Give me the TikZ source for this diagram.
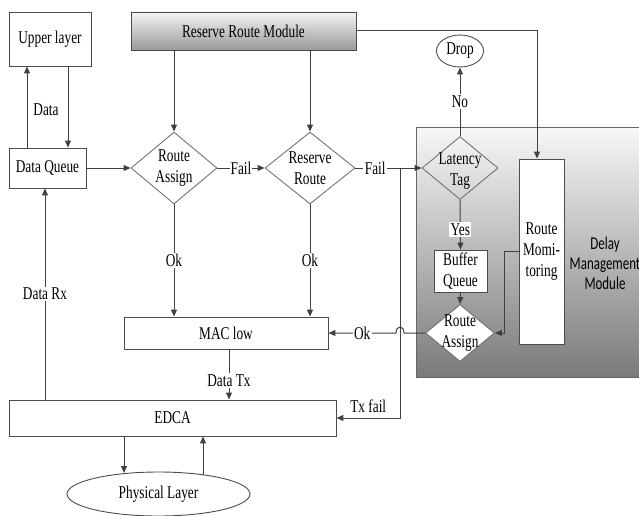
\documentclass[tikz,border=0pt]{standalone}
\usepackage{fontspec}
\setmainfont[FakeStretch=0.74]{Liberation Serif}
\newfontfamily\calfont[FakeStretch=0.72]{Carlito}
\usetikzlibrary{arrows.meta,shapes.geometric}
\newcommand\tf{\fontsize{18}{21}\selectfont}
\begin{document}
\begin{tikzpicture}[x=1pt,y=-1pt,
  ln/.style={draw=black!75, line width=1pt},
  arr/.style={ln, -{Triangle[length=7pt,width=6pt]}},
  box/.style={draw=black!70, line width=0.9pt, fill=white, inner sep=0pt, font=\tf, align=center},
  dia/.style={diamond, draw=black!55, line width=0.9pt, fill=white, inner sep=0pt},
  lbl/.style={font=\tf, fill=white, inner sep=1.5pt},
  txt/.style={font=\tf, align=center, inner sep=0pt}]
\useasboundingbox (0,0) rectangle (639,516);

% delay management module background
\node[draw=black!60, line width=0.9pt, top color=black!3, bottom color=black!52,
      minimum width=229pt, minimum height=250pt, inner sep=0pt] (dm) at (530.5,252) {};
\node[font=\calfont\fontsize{18}{20}\selectfont, align=center, inner sep=0pt] (dmtx) at (605,263) {Delay\\Management\\Module};

% nodes
\node[box, minimum width=82pt, minimum height=54pt] (upper) at (50,39) {Upper layer};
\node[box, minimum width=77pt, minimum height=40pt] (dq) at (47.5,168) {Data Queue};
\node[box, top color=black!4, bottom color=black!40, minimum width=225pt, minimum height=38pt] (rrm) at (243.5,31) {Reserve Route Module};
\node[dia, minimum width=86pt, minimum height=72pt] (ra) at (174,168) {};
\node[txt] (ratx) at (174,168) {Route\\Assign};
\node[dia, minimum width=90pt, minimum height=72pt] (rr) at (310,168) {};
\node[txt] (rrtx) at (310,168) {Reserve\\Route};
\node[box, minimum width=204pt, minimum height=32pt] (mac) at (226,333) {MAC low};
\node[box, minimum width=327pt, minimum height=36pt] (edca) at (172.5,418) {EDCA};
\node[ellipse, draw=black!70, line width=0.9pt, fill=white, minimum width=183pt, minimum height=44pt, inner sep=0pt, font=\tf] (phy) at (158.5,494) {Physical Layer};

\node[ellipse, draw=black!70, line width=0.9pt, fill=white, minimum width=47pt, minimum height=32pt, inner sep=0pt, font=\tf] (drop) at (460,51) {Drop};
\node[dia, fill=none, minimum width=76pt, minimum height=63pt] (lt) at (460,168) {};
\node[txt] (lttx) at (460,171) {Latency\\Tag};
\node[box, minimum width=53pt, minimum height=42pt] (bq) at (460.5,271) {Buffer\\Queue};
\node[dia, minimum width=69pt, minimum height=57pt] (ra2) at (460,333) {};
\node[txt] (ra2tx) at (460,333) {Route\\Assign};
\node[box, minimum width=45pt, minimum height=185pt] (rm) at (541.5,251.5) {Route\\Momi-\\toring};

\node[txt] (datal) at (46,110) {Data};

% helper coordinates
\coordinate (c27) at (27,0);
\coordinate (c68) at (68,0);
\coordinate (c45) at (45,0);
\coordinate (c229) at (229,0);
\coordinate (c124) at (124,0);
\coordinate (p1) at (124,473);
\coordinate (p2) at (203,475);
\coordinate (j1) at (400,168);
\coordinate (h1) at (404,333);
\coordinate (h2) at (396,333);

% connectors
\draw[arr] (dq.north -| c27) -- (upper.south -| c27);
\draw[arr] (upper.south -| c68) -- (dq.north -| c68);
\draw[arr] (dq.east) -- (ra.west);
\draw[arr] (rrm.south -| ra.north) -- (ra.north);
\draw[arr] (rrm.south -| rr.north) -- (rr.north);
\draw[arr] (ra.east) -- node[lbl, inner sep=0.5pt]{Fail} (rr.west);
\draw[arr] (ra.south) -- node[lbl]{Ok} (mac.north -| ra.south);
\draw[arr] (rr.south) -- node[lbl]{Ok} (mac.north -| rr.south);
\draw[arr] (rr.east) -- node[lbl, pos=0.3]{Fail} (lt.west);
\draw[arr] (j1) |- node[pos=0.75, anchor=south, font=\tf, inner sep=0pt, yshift=5pt]{Tx fail} (edca.east);
\draw[arr] (mac.south -| c229) -- node[lbl, pos=0.62]{Data Tx} (edca.north -| c229);
\draw[arr] (edca.north -| c45) -- node[lbl]{Data Rx} (dq.south -| c45);
\draw[arr] (edca.south -| c124) -- (p1);
\draw[arr] (p2) -- (edca.south -| p2);
\draw[arr] (lt.north) -- node[lbl]{No} (drop.south);
\draw[arr] (lt.south) -- node[lbl, pos=0.6]{Yes} (bq.north);
\draw[arr] (bq.south) -- (ra2.north);
\draw[arr] (rrm.east) -| ([xshift=-4.5pt]rm.north);
\draw[arr] (rm.west) -- ++(-14,0) |- (ra2.east);
\draw[arr] (ra2.west) -- (h1) .. controls (404,325) and (396,325) .. (h2) -- node[lbl]{Ok} (mac.east);
\end{tikzpicture}
\end{document}
